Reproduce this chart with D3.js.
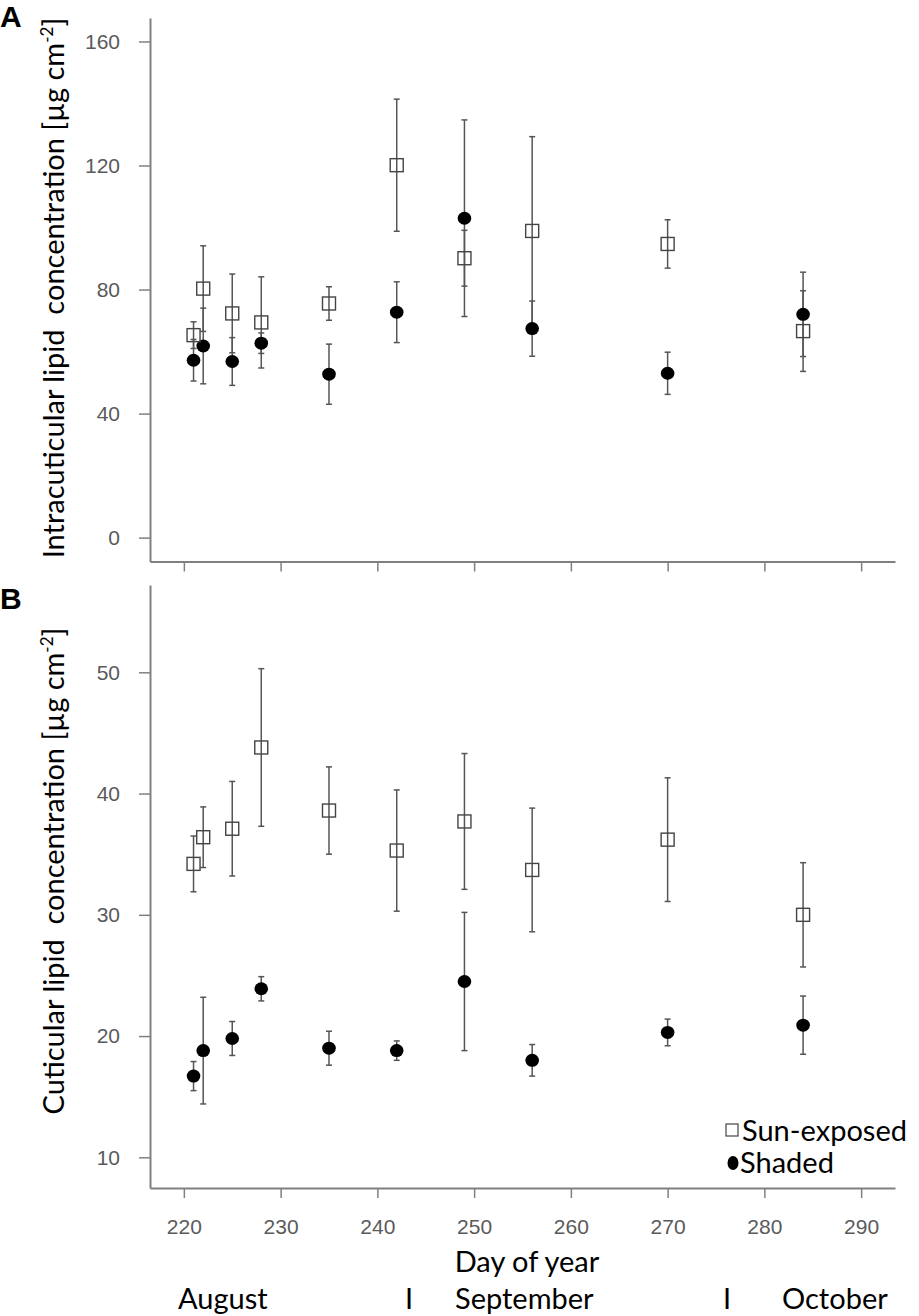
<!DOCTYPE html>
<html>
<head>
<meta charset="utf-8">
<script src="https://cdn.jsdelivr.net/npm/d3@7"></script>
<style>
  body { margin: 0; background: #fff; }
  svg { display: block; }
  text { white-space: pre; }
</style>
</head>
<body>
<div id="chart"></div>
<script>
// Day of year of each sampling date
const days = [221, 222, 225, 228, 235, 242, 249, 256, 270, 284];

// Panel A: intracuticular lipid, mean and error
const intraSun      = [65.3, 80.3, 72.3, 69.4, 75.5, 120.1, 90.1, 98.9, 94.7, 66.6];
const intraSunErr   = [4.3, 13.8, 12.7, 14.7, 5.4, 21.3, 9.0, 30.4, 7.8, 13.0];
const intraShade    = [57.2, 61.8, 56.8, 62.7, 52.7, 72.7, 103.0, 67.4, 53.0, 72.0];
const intraShadeErr = [6.7, 12.2, 7.7, 3.3, 9.7, 9.8, 31.7, 8.9, 6.8, 13.6];

// Panel B: cuticular lipid, mean and error
const cutSun      = [34.2, 36.4, 37.1, 43.8, 38.6, 35.3, 37.7, 33.7, 36.2, 30.0];
const cutSunErr   = [2.3, 2.5, 3.9, 6.5, 3.6, 5.0, 5.6, 5.1, 5.1, 4.3];
const cutShade    = [16.7, 18.8, 19.8, 23.9, 19.0, 18.8, 24.5, 18.0, 20.3, 20.9];
const cutShadeErr = [1.2, 4.4, 1.4, 1.0, 1.4, 0.8, 5.7, 1.3, 1.1, 2.4];

const xTicks = [220, 230, 240, 250, 260, 270, 280, 290];
const yTicksA = [0, 40, 80, 120, 160];
const yTicksB = [10, 20, 30, 40, 50];
const months = ['August', 'September', 'October'];

const W = 919, H = 1316;
const svg = d3.select('#chart').append('svg')
  .attr('width', W).attr('height', H);

const x = d3.scaleLinear().domain([216.5, 293.5]).range([150, 895]);

const axisColor = '#808080';
const labelFont = 'Lato, "Open Sans", sans-serif';
const tickFont = '"Liberation Sans", Arial, sans-serif';

function panel(cfg) {
  const y = d3.scaleLinear().domain(cfg.yDomain).range(cfg.yRange);
  const g = svg.append('g');

  // y axis
  const ya = g.append('g')
    .attr('transform', `translate(${x.range()[0]},0)`)
    .call(d3.axisLeft(y).tickValues(cfg.yTicks).tickSize(11).tickSizeOuter(0).tickPadding(19));
  // x axis
  const xa = g.append('g')
    .attr('transform', `translate(0,${cfg.yRange[0]})`)
    .call(d3.axisBottom(x).tickValues(xTicks).tickSize(10).tickSizeOuter(0).tickPadding(21));

  [ya, xa].forEach(a => {
    a.select('.domain').attr('stroke', axisColor).attr('stroke-width', 2);
    a.selectAll('.tick line').attr('stroke', axisColor).attr('stroke-width', 1.5);
    a.selectAll('.tick text')
      .attr('fill', '#5a5a5a')
      .attr('font-size', 21)
      .attr('font-family', tickFont);
  });
  if (!cfg.showXLabels) xa.selectAll('.tick text').remove();

  // y label
  const lab = g.append('text')
    .attr('transform', `translate(64,${cfg.labelY}) rotate(-90)`)
    .attr('text-anchor', 'middle')
    .attr('font-family', labelFont)
    .attr('font-size', 29)
    .attr('fill', '#000');
  lab.append('tspan').text(cfg.label + ' [\u00b5g cm');
  lab.append('tspan').attr('dy', -11).attr('font-size', 17).text('-2');
  lab.append('tspan').attr('dy', 11).text(']');

  // panel letter
  g.append('text')
    .attr('x', 0).attr('y', cfg.letterY)
    .attr('font-family', '"Liberation Sans", Arial, sans-serif')
    .attr('font-weight', 'bold')
    .attr('font-size', 30)
    .text(cfg.letter);

  const series = [
    { vals: cfg.shade, err: cfg.shadeErr, type: 'dot' },
    { vals: cfg.sun, err: cfg.sunErr, type: 'square' },
  ];

  // error bars first
  series.forEach(s => {
    const eg = g.append('g').attr('stroke', '#555').attr('stroke-width', 1.5);
    days.forEach((d, i) => {
      const cx = x(d);
      const hi = y(s.vals[i] + s.err[i]);
      const lo = y(s.vals[i] - s.err[i]);
      eg.append('line').attr('x1', cx).attr('x2', cx).attr('y1', hi).attr('y2', lo);
      eg.append('line').attr('x1', cx - 3).attr('x2', cx + 3).attr('y1', hi).attr('y2', hi);
      eg.append('line').attr('x1', cx - 3).attr('x2', cx + 3).attr('y1', lo).attr('y2', lo);
    });
  });

  // markers
  series.forEach(s => {
    days.forEach((d, i) => {
      if (s.type === 'dot') {
        g.append('ellipse')
          .attr('cx', x(d)).attr('cy', y(s.vals[i]))
          .attr('rx', 6.8).attr('ry', 6.5)
          .attr('fill', '#000');
      } else {
        g.append('rect')
          .attr('x', x(d) - 6.5).attr('y', y(s.vals[i]) - 6.5)
          .attr('width', 13).attr('height', 13)
          .attr('fill', 'none')
          .attr('stroke', '#444')
          .attr('stroke-width', 1.4);
      }
    });
  });
  return y;
}

panel({
  letter: 'A', letterY: 27,
  yDomain: [-7.7, 167.6], yRange: [561.5, 17.9], yTicks: yTicksA,
  label: 'Intracuticular lipid  concentration', labelY: 288,
  sun: intraSun, sunErr: intraSunErr, shade: intraShade, shadeErr: intraShadeErr,
  showXLabels: false,
});

panel({
  letter: 'B', letterY: 609,
  yDomain: [7.47, 57.2], yRange: [1188, 585], yTicks: yTicksB,
  label: 'Cuticular lipid  concentration', labelY: 871,
  sun: cutSun, sunErr: cutSunErr, shade: cutShade, shadeErr: cutShadeErr,
  showXLabels: true,
});

// legend
const leg = svg.append('g').attr('font-family', labelFont).attr('font-size', 29);
leg.append('rect').attr('x', 726).attr('y', 1124).attr('width', 12).attr('height', 12)
  .attr('fill', 'none').attr('stroke', '#444').attr('stroke-width', 1.2);
leg.append('text').attr('x', 742).attr('y', 1141).text('Sun-exposed');
leg.append('ellipse').attr('cx', 733).attr('cy', 1163).attr('rx', 5.5).attr('ry', 7).attr('fill', '#000');
leg.append('text').attr('x', 740).attr('y', 1173).text('Shaded');

// x label and months
svg.append('text')
  .attr('x', 527).attr('y', 1272)
  .attr('text-anchor', 'middle')
  .attr('font-family', labelFont).attr('font-size', 29)
  .text('Day of year');

const monthX = [178, 455, 782];
const sepX = [409, 727];
const mg = svg.append('g').attr('font-family', labelFont).attr('font-size', 29);
months.forEach((m, i) => {
  mg.append('text').attr('x', monthX[i]).attr('y', 1309).text(m);
});
sepX.forEach(sx => {
  mg.append('text').attr('x', sx).attr('y', 1309).attr('text-anchor', 'middle').text('I');
});
</script>
</body>
</html>
